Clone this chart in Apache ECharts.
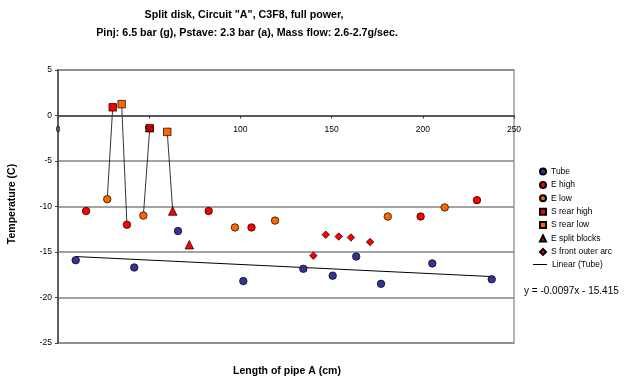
<!DOCTYPE html>
<html>
<head>
<meta charset="utf-8">
<script src="https://cdn.jsdelivr.net/npm/echarts@6/dist/echarts.min.js"></script>
<style>
  html, body { margin: 0; padding: 0; background: #fff; }
  #chart { width: 624px; height: 378px; }
</style>
</head>
<body>
<div id="chart"></div>
<script>
// data: [length (cm), temperature (C)]
const tube = [[9.7, -15.9], [41.8, -16.7], [65.8, -12.7], [101.6, -18.2], [134.5, -16.85],
  [150.6, -17.6], [163.5, -15.5], [177.1, -18.5], [205.2, -16.25], [237.8, -18.0]];
const eHigh = [[15.4, -10.5], [37.8, -12.0], [82.6, -10.5], [106.1, -12.3], [198.8, -11.1], [229.7, -9.3]];
const eLow = [[27.0, -9.2], [46.8, -11.0], [97.0, -12.3], [119.0, -11.55], [180.8, -11.1], [212.0, -10.1]];
const sRearHigh = [[30.0, 0.9], [50.3, -1.4]];
const sRearLow = [[34.9, 1.25], [59.9, -1.8]];
const eSplit = [[62.9, -10.5], [72.0, -14.2]];
const sFront = [[140.0, -15.4], [146.8, -13.1], [153.9, -13.3], [160.6, -13.4], [171.1, -13.9]];
const linearTube = [[9.7, -15.5], [237.8, -17.7]];
// thin lines joining pairs of points
const links = [
  [[27.0, -9.2], [30.0, 0.9]],
  [[37.8, -12.0], [34.9, 1.25]],
  [[46.8, -11.0], [50.3, -1.4]],
  [[62.9, -10.5], [59.9, -1.8]]
];
const markerNames = ['Tube', 'E high', 'E low', 'S rear high', 'S rear low', 'E split blocks', 'S front outer arc'];
const yMin = -25, yMax = 5;

const font = '"Liberation Sans", Arial, sans-serif';
const myChart = echarts.init(document.getElementById('chart'), null, { renderer: 'canvas' });

const gridTop = 70, gridBottom = 35;
const plotH = 378 - gridTop - gridBottom;
// move the x axis up to y = 0
const xOffset = -plotH * (0 - yMin) / (yMax - yMin);

const dot = (name, data, symbol, size, color) => ({
  name: name,
  type: 'scatter',
  data: data,
  symbol: symbol,
  symbolSize: size,
  itemStyle: { color: color, borderColor: '#000', borderWidth: 0.7, opacity: 1 },
  emphasis: { disabled: true },
  z: 3
});

const series = [];
links.forEach((pair, i) => {
  series.push({
    name: 'link' + i,
    type: 'line',
    data: pair,
    symbol: 'none',
    lineStyle: { color: '#000', width: 0.8 },
    silent: true,
    z: 2
  });
});
series.push(dot('Tube', tube, 'circle', 7.5, '#333399'));
series.push(dot('E high', eHigh, 'circle', 7.5, '#ff0000'));
series.push(dot('E low', eLow, 'circle', 7.5, '#ff6600'));
series.push(dot('S rear high', sRearHigh, 'rect', 7.5, '#ff0000'));
series.push(dot('S rear low', sRearLow, 'rect', 7.5, '#ff6600'));
series.push(dot('E split blocks', eSplit, 'triangle', 8.5, '#ff0000'));
series.push(dot('S front outer arc', sFront, 'diamond', 7.5, '#ff0000'));
series.push({
  name: 'Linear (Tube)',
  type: 'line',
  data: linearTube,
  symbol: 'none',
  lineStyle: { color: '#000', width: 1 },
  itemStyle: { color: '#000' },
  emphasis: { disabled: true },
  z: 2
});

const legendText = { color: '#000', fontSize: 8.5, fontFamily: font, lineHeight: 11 };

const option = {
  animation: false,
  backgroundColor: '#fff',
  textStyle: { fontFamily: font },
  grid: {
    left: 58, right: 110, top: gridTop, bottom: gridBottom,
    show: true, borderColor: '#b4b4b4', borderWidth: 2, backgroundColor: '#fff'
  },
  xAxis: {
    type: 'value',
    min: 0, max: 250, interval: 50,
    position: 'bottom',
    offset: xOffset,
    z: 4,
    axisLine: { onZero: false, lineStyle: { color: '#404040', width: 1.5 } },
    axisTick: { show: true, length: 3, lineStyle: { color: '#404040' } },
    axisLabel: { color: '#000', fontSize: 8.5, fontFamily: font, margin: 10 },
    splitLine: { show: false }
  },
  yAxis: {
    type: 'value',
    min: yMin, max: yMax, interval: 5,
    axisLine: { show: true, onZero: false, lineStyle: { color: '#404040', width: 1.5 } },
    axisTick: { show: true, length: 3, lineStyle: { color: '#404040' } },
    axisLabel: { color: '#000', fontSize: 8.5, fontFamily: font, margin: 6 },
    splitLine: { show: true, lineStyle: { color: '#858585', width: 1.5 } }
  },
  legend: [
    {
      data: markerNames,
      orient: 'vertical',
      left: 534, top: 161,
      itemWidth: 6, itemHeight: 6,
      itemGap: 2.4,
      textStyle: legendText,
      selectedMode: false
    },
    {
      data: [{ name: 'Linear (Tube)', icon: 'rect' }],
      orient: 'vertical',
      left: 528, top: 254,
      itemWidth: 14, itemHeight: 1,
      itemStyle: { color: '#000', borderWidth: 0 },
      textStyle: legendText,
      selectedMode: false
    }
  ],
  graphic: [
    { type: 'text', x: 244, y: 15, silent: true,
      style: { text: 'Split disk, Circuit "A", C3F8, full power,', fill: '#000',
        font: 'bold 10.7px ' + font, align: 'center', verticalAlign: 'middle' } },
    { type: 'text', x: 247, y: 33, silent: true,
      style: { text: 'Pinj: 6.5 bar (g), Pstave: 2.3 bar (a), Mass flow: 2.6-2.7g/sec.', fill: '#000',
        font: 'bold 10.7px ' + font, align: 'center', verticalAlign: 'middle' } },
    { type: 'text', x: 287, y: 371, silent: true,
      style: { text: 'Length of pipe A (cm)', fill: '#000',
        font: 'bold 10.5px ' + font, align: 'center', verticalAlign: 'middle' } },
    { type: 'text', x: 12, y: 204, rotation: Math.PI / 2, silent: true,
      style: { text: 'Temperature (C)', fill: '#000',
        font: 'bold 10.5px ' + font, align: 'center', verticalAlign: 'middle' } },
    { type: 'text', x: 524, y: 291, silent: true,
      style: { text: 'y = -0.0097x - 15.415', fill: '#000',
        font: '10px ' + font, align: 'left', verticalAlign: 'middle' } }
  ],
  series: series
};
myChart.setOption(option);
</script>
</body>
</html>
